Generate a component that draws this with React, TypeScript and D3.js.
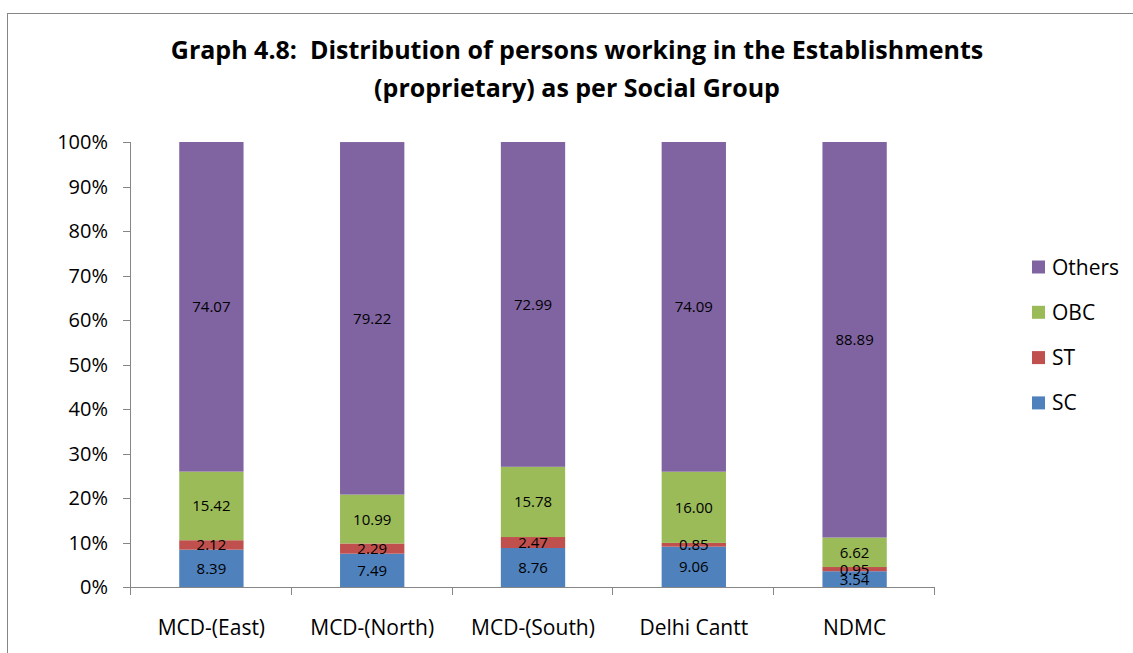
import React from "react";
import * as d3 from "d3";

const categories = ["MCD-(East)", "MCD-(North)", "MCD-(South)", "Delhi Cantt", "NDMC"];
const seriesNames = ["SC", "ST", "OBC", "Others"];
const scValues = [8.39, 7.49, 8.76, 9.06, 3.54];
const stValues = [2.12, 2.29, 2.47, 0.85, 0.95];
const obcValues = [15.42, 10.99, 15.78, 16.0, 6.62];
const othersValues = [74.07, 79.22, 72.99, 74.09, 88.89];
const colors = ["#4F81BD", "#C0504D", "#9BBB59", "#8064A2"];
const yTicks = [0, 10, 20, 30, 40, 50, 60, 70, 80, 90, 100];
const titleLines = [
  "Graph 4.8:  Distribution of persons working in the Establishments",
  "(proprietary) as per Social Group",
];

const FONT = "'Open Sans', 'Liberation Sans', sans-serif";

export default function App() {
  const W = 1133, H = 653;
  const left = 131, right = 935, top = 142, bottom = 587;
  const rows = categories.map((c, i) => ({
    cat: c,
    SC: scValues[i],
    ST: stValues[i],
    OBC: obcValues[i],
    Others: othersValues[i],
  }));
  const stack = d3.stack<any>().keys(seriesNames)(rows);
  const x = d3.scaleBand().domain(categories).range([left, right]).paddingInner(0.6).paddingOuter(0.3);
  const xOuter = d3.scaleBand().domain(categories).range([left, right]);
  const y = d3.scaleLinear().domain([0, 100]).range([bottom, top]);

  return (
    <svg width={W} height={H} style={{ position: "absolute", left: 0, top: 0 }} fontFamily={FONT}>
      <rect x={0} y={0} width={W} height={H} fill="#fff" />
      <rect x={7.5} y={13.5} width={W + 20} height={H + 20} fill="none" stroke="#868686" strokeWidth={1} />
      {titleLines.map((t, i) => (
        <text key={i} x={577} y={59 + i * 38} textAnchor="middle" fontSize={25} fontWeight="bold" fill="#000" style={{ whiteSpace: "pre" }}>
          {t}
        </text>
      ))}
      {/* bars */}
      {stack.map((s, si) => (
        <g key={s.key}>
          {s.map((d, i) => (
            <rect
              key={i}
              x={x(categories[i])}
              y={y(d[1])}
              width={x.bandwidth()}
              height={y(d[0]) - y(d[1])}
              fill={colors[si]}
            />
          ))}
        </g>
      ))}
      {/* labels */}
      {stack.map((s) => (
        <g key={"l" + s.key}>
          {s.map((d, i) => (
            <text
              key={i}
              x={(x(categories[i]) as number) + x.bandwidth() / 2}
              y={(y(d[0]) + y(d[1])) / 2 + 5.5}
              textAnchor="middle"
              fontSize={15}
              fill="#000"
            >
              {(d[1] - d[0]).toFixed(2)}
            </text>
          ))}
        </g>
      ))}
      {/* y axis */}
      <line x1={left - 0.5} x2={left - 0.5} y1={top} y2={bottom} stroke="#868686" />
      {yTicks.map((t) => (
        <g key={t}>
          <line x1={left - 8} x2={left} y1={Math.round(y(t)) + 0.5} y2={Math.round(y(t)) + 0.5} stroke="#868686" />
          <text x={108} y={y(t) + 7} textAnchor="end" fontSize={20} fill="#000">
            {t}%
          </text>
        </g>
      ))}
      {/* x axis */}
      <line x1={left - 8} x2={right} y1={bottom + 0.5} y2={bottom + 0.5} stroke="#868686" />
      {[...categories.map((c) => xOuter(c) as number), right].map((v, i) => (
        <line key={i} x1={Math.round(v) - 0.5} x2={Math.round(v) - 0.5} y1={bottom} y2={bottom + 8} stroke="#868686" />
      ))}
      {categories.map((c) => (
        <text key={c} x={(xOuter(c) as number) + xOuter.bandwidth() / 2} y={635} textAnchor="middle" fontSize={21} fill="#000">
          {c}
        </text>
      ))}
      {/* legend */}
      {[...seriesNames].reverse().map((n, i) => {
        const ci = seriesNames.indexOf(n);
        const cy = 267 + i * 45.3;
        return (
          <g key={n}>
            <rect x={1032} y={cy - 6.5} width={13} height={13} fill={colors[ci]} />
            <text x={1052} y={cy + 7.5} fontSize={21} fill="#000">
              {n}
            </text>
          </g>
        );
      })}
    </svg>
  );
}
